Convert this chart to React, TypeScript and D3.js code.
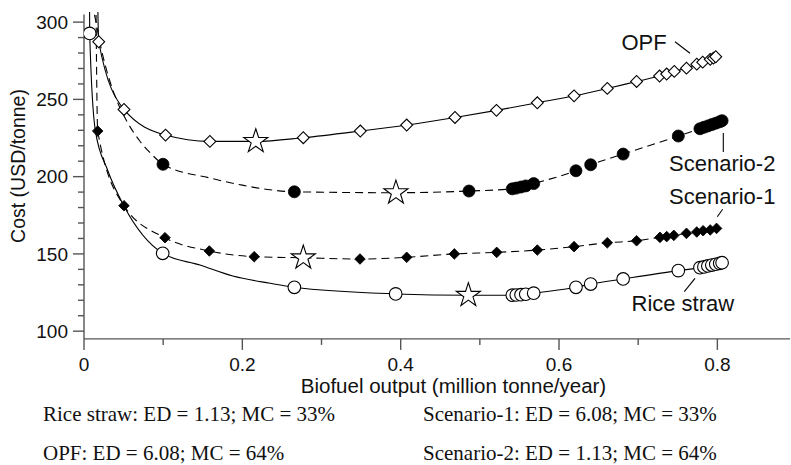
import React from 'react';
import * as d3 from 'd3';

const W = 791;
const H = 465;

// ---- Data ----
// Rice straw (open circles, solid line)
const riceStrawX = [0.0072, 0.0994, 0.2657, 0.3937, 0.541, 0.546, 0.552, 0.558, 0.568, 0.6214, 0.64, 0.681, 0.7507, 0.778, 0.783, 0.788, 0.793, 0.798, 0.803, 0.806];
const riceStrawCost = [292.7, 150.4, 128.4, 124.1, 123.3, 123.4, 123.6, 123.9, 124.6, 128.4, 130.5, 133.8, 139.2, 141.1, 141.6, 142.2, 142.8, 143.3, 143.9, 144.3];
const riceStrawStar = [0.4855, 123.2];
const riceStrawCurveX = [0.0066, 0.0143, 0.03, 0.0505, 0.1465, 0.188, 0.235];
const riceStrawCurveCost = [345, 230, 204, 181, 142.8, 135.7, 131];

// Scenario-2 (filled circles, dashed line)
const scen2X = [0.0998, 0.2657, 0.4863, 0.541, 0.546, 0.552, 0.558, 0.568, 0.6214, 0.64, 0.681, 0.7507, 0.778, 0.783, 0.788, 0.793, 0.798, 0.803, 0.806];
const scen2Cost = [208.0, 190.2, 190.7, 192.1, 192.6, 193.3, 194.0, 195.5, 203.8, 207.7, 214.6, 226.3, 231.0, 231.9, 232.8, 233.7, 234.6, 235.5, 236.2];
const scen2Star = [0.394, 189.6];
const scen2CurveX = [0.0118, 0.0126, 0.0152, 0.0202, 0.0265, 0.0328, 0.0429, 0.0556, 0.0707, 0.0859, 0.16, 0.2, 0.235];
const scen2CurveCost = [330, 308, 300, 286.5, 272.8, 261.6, 247.5, 234.5, 222.9, 214.2, 199, 194.5, 191.5];

// Scenario-1 (filled diamonds, dashed line)
const scen1X = [0.0173, 0.0505, 0.1023, 0.1583, 0.215, 0.3486, 0.4076, 0.4678, 0.5213, 0.5726, 0.619, 0.661, 0.698, 0.7275, 0.736, 0.745, 0.761, 0.774, 0.782, 0.791, 0.799];
const scen1Cost = [229.5, 181.2, 160.5, 151.9, 148.2, 146.7, 147.8, 150.0, 151.0, 152.5, 154.7, 157.2, 158.5, 160.7, 161.2, 162.0, 163.3, 164.2, 165.0, 165.5, 166.5];
const scen1Star = [0.277, 147.5];
const scen1CurveX = [0.0148];
const scen1CurveCost = [330];

// OPF (open diamonds, solid line)
const opfX = [0.0186, 0.0505, 0.103, 0.159, 0.277, 0.349, 0.4076, 0.4686, 0.521, 0.5726, 0.619, 0.661, 0.698, 0.727, 0.736, 0.7456, 0.761, 0.774, 0.7815, 0.791, 0.795, 0.798];
const opfCost = [287.3, 243.5, 226.9, 222.8, 225.2, 229.5, 233.4, 238.3, 242.9, 247.8, 252.3, 257.1, 261.6, 265.1, 266.4, 268.1, 270.2, 272.8, 274.1, 275.9, 276.7, 277.6];
const opfStar = [0.217, 222.8];
const opfCurveX = [0.0168];
const opfCurveCost = [330];

const xMajorTicks = [0, 0.2, 0.4, 0.6, 0.8];
const xMinorTicks = [0.1, 0.3, 0.5, 0.7];
const yMajorTicks = [100, 150, 200, 250, 300];
const yMinorTicks = [110, 120, 130, 140, 160, 170, 180, 190, 210, 220, 230, 240, 260, 270, 280, 290];

const captions = [
  'Rice straw: ED = 1.13; MC = 33%',
  'Scenario-1: ED = 6.08; MC = 33%',
  'OPF: ED = 6.08; MC = 64%',
  'Scenario-2: ED = 1.13; MC = 64%',
];

const seriesLabels = ['OPF', 'Scenario-2', 'Scenario-1', 'Rice straw'];

// ---- helpers ----
type P = [number, number];
const zip = (xs: number[], ys: number[]): P[] => xs.map((v, i) => [v, ys[i]] as P);

const x = d3.scaleLinear().domain([0, 0.89]).range([84, 788.6]);
const y = d3.scaleLinear().domain([95, 305]).range([338.9, 14.4]);

const line = d3
  .line<P>()
  .x((d) => x(d[0]))
  .y((d) => y(d[1]))
  .curve(d3.curveMonotoneX);

const merged = (mx: number[], my: number[], star: number[], cx: number[], cy: number[]) =>
  d3.sort([...zip(mx, my), [star[0], star[1]] as P, ...zip(cx, cy)], (d) => d[0]);

const starPath = d3.symbol(d3.symbolStar, 180)() as string;
const diamondOpen = d3.symbol(d3.symbolSquare, 70)() as string;
const diamondFilled = d3.symbol(d3.symbolSquare, 56)() as string;

const SANS = 'Liberation Sans, Arial, Helvetica, sans-serif';
const SERIF = 'Liberation Serif, Times New Roman, serif';
const AXIS = '#555';

export default function App() {
  const rsLine = line(merged(riceStrawX, riceStrawCost, riceStrawStar, riceStrawCurveX, riceStrawCurveCost)) as string;
  const s2Line = line(merged(scen2X, scen2Cost, scen2Star, scen2CurveX, scen2CurveCost)) as string;
  const s1Line = line(merged(scen1X, scen1Cost, scen1Star, scen1CurveX, scen1CurveCost)) as string;
  const opLine = line(merged(opfX, opfCost, opfStar, opfCurveX, opfCurveCost)) as string;

  const x0 = x.range()[0];
  const yb = y.range()[0];

  return (
    <svg
      width={W}
      height={H}
      viewBox={`0 0 ${W} ${H}`}
      style={{ position: 'absolute', left: 0, top: 0, background: '#fff' }}
    >
      <rect x={0} y={0} width={W} height={H} fill="#fff" />
      <defs>
        <clipPath id="plotClip">
          <rect x={x0} y={12} width={W - x0} height={yb - 12} />
        </clipPath>
      </defs>

      {/* Axes */}
      <g stroke={AXIS} strokeWidth={1.4} fill="none">
        <line x1={x0} x2={x0} y1={y(305)} y2={yb} />
        <line x1={x0} x2={x.range()[1] + 1.5} y1={yb} y2={yb} />
        {yMajorTicks.map((t) => (
          <line key={'ym' + t} x1={x0 - 11} x2={x0} y1={y(t)} y2={y(t)} />
        ))}
        {yMinorTicks.map((t) => (
          <line key={'yn' + t} x1={x0 - 6} x2={x0} y1={y(t)} y2={y(t)} />
        ))}
        {xMajorTicks.map((t) => (
          <line key={'xm' + t} x1={x(t)} x2={x(t)} y1={yb} y2={yb + 11} />
        ))}
        {xMinorTicks.map((t) => (
          <line key={'xn' + t} x1={x(t)} x2={x(t)} y1={yb} y2={yb + 6} />
        ))}
      </g>

      {/* Tick labels */}
      <g fontFamily={SANS} fontSize={19} fill="#111">
        {yMajorTicks.map((t) => (
          <text key={'yl' + t} x={68} y={y(t) + 6.8} textAnchor="end">
            {t}
          </text>
        ))}
        {xMajorTicks.map((t) => (
          <text key={'xl' + t} x={x(t)} y={370.5} textAnchor="middle">
            {t === 0 ? '0' : String(t)}
          </text>
        ))}
      </g>

      {/* Axis titles */}
      <text x={453.5} y={393} textAnchor="middle" fontFamily={SANS} fontSize={20.5} fill="#111">
        Biofuel output (million tonne/year)
      </text>
      <text
        transform={`translate(25, 166) rotate(-90)`}
        textAnchor="middle"
        fontFamily={SANS}
        fontSize={19.5}
        fill="#111"
      >
        Cost (USD/tonne)
      </text>

      {/* Lines */}
      <g clipPath="url(#plotClip)" fill="none" stroke="#000" strokeWidth={1.1}>
        <path d={opLine} />
        <path d={rsLine} />
        <path d={s1Line} strokeDasharray="8,5" />
        <path d={s2Line} strokeDasharray="8,5" />
      </g>

      {/* Markers */}
      <g clipPath="url(#plotClip)">
        {zip(opfX, opfCost).map((d, i) => (
          <path
            key={'o' + i}
            d={diamondOpen}
            transform={`translate(${x(d[0])},${y(d[1])}) rotate(45)`}
            fill="#fff"
            stroke="#000"
            strokeWidth={1.1}
          />
        ))}
        {zip(scen1X, scen1Cost).map((d, i) => (
          <path
            key={'s1' + i}
            d={diamondFilled}
            transform={`translate(${x(d[0])},${y(d[1])}) rotate(45)`}
            fill="#000"
            stroke="#000"
            strokeWidth={0.8}
          />
        ))}
        {zip(scen2X, scen2Cost).map((d, i) => (
          <circle key={'s2' + i} cx={x(d[0])} cy={y(d[1])} r={6} fill="#000" stroke="#000" strokeWidth={0.8} />
        ))}
        {zip(riceStrawX, riceStrawCost).map((d, i) => (
          <circle key={'rs' + i} cx={x(d[0])} cy={y(d[1])} r={6.3} fill="#fff" stroke="#000" strokeWidth={1.1} />
        ))}
        {[opfStar, scen2Star, scen1Star, riceStrawStar].map((s, i) => (
          <path
            key={'st' + i}
            d={starPath}
            transform={`translate(${x(s[0])},${y(s[1])})`}
            fill="#fff"
            stroke="#000"
            strokeWidth={1.1}
          />
        ))}
      </g>

      {/* Series labels with leader lines */}
      <g fontFamily={SANS} fontSize={22} fill="#111">
        <text x={621.5} y={50}>{seriesLabels[0]}</text>
        <text x={669} y={171}>{seriesLabels[1]}</text>
        <text x={669} y={204}>{seriesLabels[2]}</text>
        <text x={631.5} y={311}>{seriesLabels[3]}</text>
      </g>
      <g stroke="#000" strokeWidth={1.1}>
        <line x1={675} y1={41.7} x2={690} y2={53.3} />
        <line x1={723.3} y1={133} x2={723.3} y2={152} />
        <line x1={722.7} y1={209.3} x2={717.3} y2={216.7} />
        <line x1={695} y1={278.3} x2={684.3} y2={291.7} />
      </g>

      {/* Captions */}
      <g fontFamily={SERIF} fontSize={21} fill="#111">
        <text x={43} y={421}>{captions[0]}</text>
        <text x={423} y={421}>{captions[1]}</text>
        <text x={43} y={459.5}>{captions[2]}</text>
        <text x={423} y={459.5}>{captions[3]}</text>
      </g>
    </svg>
  );
}
